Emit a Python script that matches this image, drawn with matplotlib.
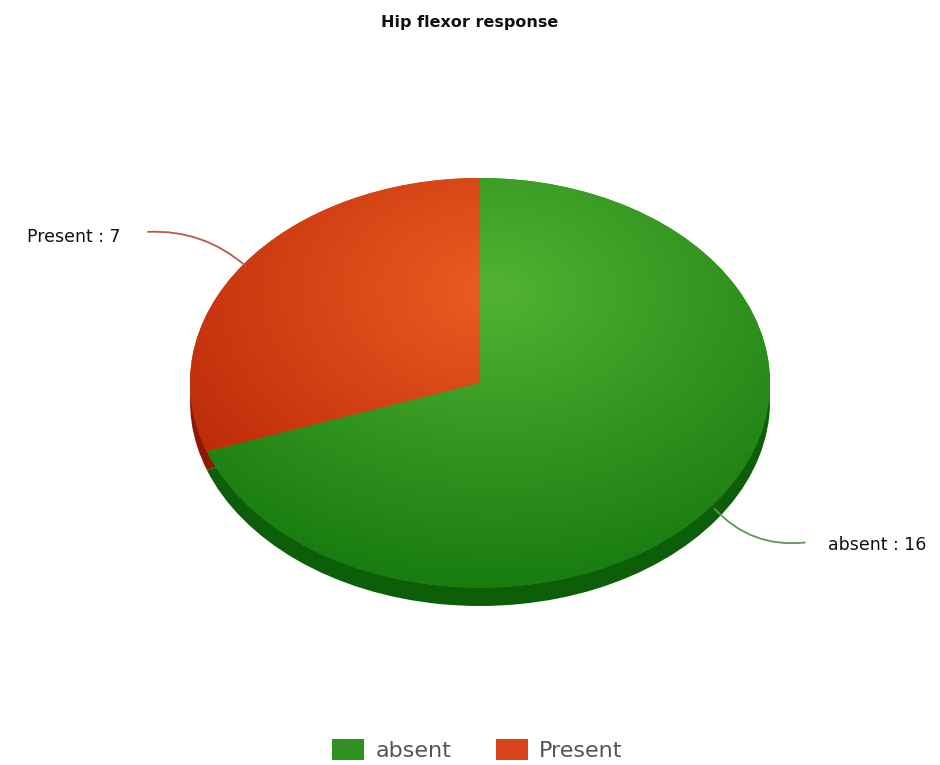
import numpy as np
import matplotlib
matplotlib.use("Agg")
import matplotlib.pyplot as plt
from matplotlib.patches import Patch

title = "Hip flexor response"
categories = ["absent", "Present"]
values = [16, 7]
light_colors = [(0.32, 0.70, 0.20), (0.93, 0.36, 0.13)]
dark_colors = [(0.08, 0.47, 0.05), (0.70, 0.13, 0.02)]
depth_colors = [(0.05, 0.37, 0.03), (0.55, 0.10, 0.02)]
base_colors = ["#2f9220", "#d9441a"]
line_colors = ["#5a9a50", "#c0564a"]

W, H = 940, 765
fig = plt.figure(figsize=(W / 100, H / 100), dpi=100)

depth = 0.09
ax = fig.add_axes([190 / W, (H - 606) / H, 580 / W, 428 / H])

ax.pie(values, colors=depth_colors, startangle=90, counterclock=False,
       center=(0, -depth), radius=1, wedgeprops=dict(linewidth=0))
wedges, _ = ax.pie(values, colors=base_colors, startangle=90, counterclock=False,
                   center=(0, 0), radius=1, wedgeprops=dict(linewidth=0))
ax.set_aspect("auto")
ax.set_xlim(-1, 1)
ax.set_ylim(-1 - depth, 1)
ax.axis("off")

n = 400
xs = np.linspace(-1, 1, n)
ys = np.linspace(1, -1, n)
X, Y = np.meshgrid(xs, ys)
D = np.sqrt((X - 0.05) ** 2 + (Y - 0.45) ** 2)
T = np.clip(D / 1.55, 0, 1)[..., None]
for w, lc, dc in zip(wedges, light_colors, dark_colors):
    img = np.array(lc) * (1 - T) + np.array(dc) * T
    im = ax.imshow(img, extent=(-1, 1, -1, 1), origin="upper", zorder=2,
                   interpolation="bilinear", aspect="auto")
    im.set_clip_path(w)

text_offsets = [(1.20, -0.79, "left"), (-1.24, 0.71, "right")]
line_ends = [(1.12, -0.78, -0.25), (-1.145, 0.737, -0.2)]
for i, (w, cat, val, (tx, ty, ha), (lx, ly, rad)) in enumerate(
        zip(wedges, categories, values, text_offsets, line_ends)):
    ang = np.deg2rad((w.theta1 + w.theta2) / 2)
    px, py = np.cos(ang), np.sin(ang)
    if py < 0:
        py -= depth * 0.5
    ax.annotate("", xy=(px * 0.99, py * 0.99), xytext=(lx, ly),
                arrowprops=dict(arrowstyle="-", color=line_colors[i],
                                lw=1.3, connectionstyle=f"arc3,rad={rad}",
                                shrinkA=0, shrinkB=0),
                annotation_clip=False, zorder=3)
    ax.text(tx, ty, f"{cat} : {val}", ha=ha, va="center", fontsize=12.5,
            color="#111111", family="DejaVu Sans", clip_on=False)

fig.text(0.5, 1 - 22 / H, title, ha="center", va="center", fontsize=11.5,
         fontweight="bold", color="#111111", family="DejaVu Sans")

handles = [Patch(facecolor=c, edgecolor="none") for c in base_colors]
fig.legend(handles, categories, loc="center", bbox_to_anchor=(0.508, 1 - 750 / H),
           ncol=2, frameon=False, fontsize=16, handlelength=1.45, handleheight=1.1,
           handletextpad=0.5, columnspacing=2.0, labelcolor="#555555")

fig.savefig("out.png", dpi=100, facecolor="white")
